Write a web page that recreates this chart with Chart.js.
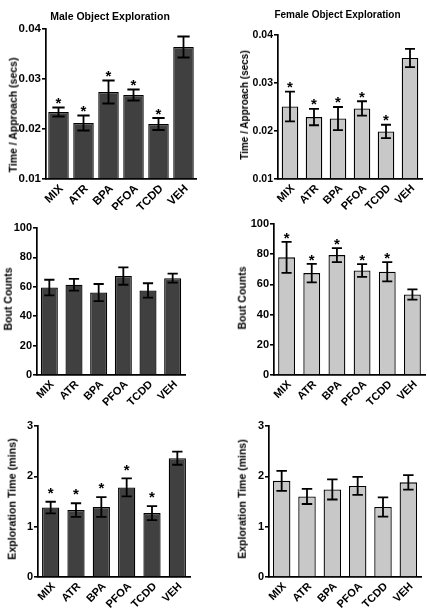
<!DOCTYPE html>
<html>
<head>
<meta charset="utf-8">
<script src="https://cdn.jsdelivr.net/npm/chart.js@4"></script>
<style>
  body { margin: 0; background: #fff; }
  #wrap { position: relative; width: 428px; height: 611px; overflow: hidden;
    font-family: "Liberation Sans", Arial, sans-serif; font-weight: bold; color: #000; }
  .panel { position: absolute; }
  .panel canvas { position: absolute; left: 0; top: 0; }
  .txt { position: absolute; white-space: nowrap; line-height: 1; transform: translate(-50%, -50%); }
  .ylab { transform: translate(-50%, -50%) rotate(-90deg); }
</style>
</head>
<body>
<div id="wrap"></div>
<script>
const groups = ["MIX", "ATR", "BPA", "PFOA", "TCDD", "VEH"];

const maleApproach = [0.0234, 0.0212, 0.0274, 0.0268, 0.0210, 0.0364];
const maleApproachErr = [0.0009, 0.0015, 0.0023, 0.0011, 0.0012, 0.0021];
const maleApproachSig = [1, 1, 1, 1, 1, 0];

const femaleApproach = [0.0251, 0.0229, 0.0226, 0.0247, 0.0199, 0.0352];
const femaleApproachErr = [0.0031, 0.0017, 0.0024, 0.0015, 0.0014, 0.0019];
const femaleApproachSig = [1, 1, 1, 1, 1, 0];

const maleBouts = [59.5, 61.4, 56.1, 67.3, 57.5, 65.9];
const maleBoutsErr = [5.3, 4.0, 5.8, 5.9, 4.9, 3.0];
const maleBoutsSig = [0, 0, 0, 0, 0, 0];

const femaleBouts = [77.9, 67.5, 79.4, 69.2, 68.4, 53.3];
const femaleBoutsErr = [10.3, 6.1, 4.6, 4.2, 6.4, 3.4];
const femaleBoutsSig = [1, 1, 1, 1, 1, 0];

const maleExplore = [1.38, 1.33, 1.39, 1.78, 1.27, 2.36];
const maleExploreErr = [0.115, 0.135, 0.195, 0.18, 0.14, 0.13];
const maleExploreSig = [1, 1, 1, 1, 1, 0];

const femaleExplore = [1.91, 1.60, 1.74, 1.81, 1.39, 1.88];
const femaleExploreErr = [0.2, 0.15, 0.2, 0.18, 0.19, 0.145];
const femaleExploreSig = [0, 0, 0, 0, 0, 0];

const approachTicks = [0.01, 0.02, 0.03, 0.04];
const boutTicks = [0, 20, 40, 60, 80, 100];
const exploreTicks = [0, 1, 2, 3];

const MALE_FILL = "#404040";
const FEMALE_FILL = "#c8c8c8";

// error bars + significance stars, drawn from the bar elements and y scale
const errorBars = {
  id: "errorBars",
  afterDatasetsDraw(chart, args, opts) {
    const ctx = chart.ctx;
    const y = chart.scales.y;
    const values = chart.data.datasets[0].data;
    ctx.save();
    ctx.strokeStyle = "#000";
    ctx.fillStyle = "#000";
    ctx.lineWidth = 1.8;
    ctx.font = "bold 15px 'Liberation Sans', Arial, sans-serif";
    ctx.textAlign = "center";
    ctx.textBaseline = "alphabetic";
    chart.getDatasetMeta(0).data.forEach((bar, i) => {
      const top = y.getPixelForValue(values[i] + opts.errors[i]);
      const bot = y.getPixelForValue(values[i] - opts.errors[i]);
      const half = bar.width * 0.3;
      ctx.beginPath();
      ctx.moveTo(bar.x, top);
      ctx.lineTo(bar.x, bot);
      ctx.moveTo(bar.x - half, top);
      ctx.lineTo(bar.x + half, top);
      ctx.moveTo(bar.x - half, bot);
      ctx.lineTo(bar.x + half, bot);
      ctx.stroke();
      if (opts.sig[i]) {
        ctx.fillText("*", bar.x, top - opts.starGap + 15 * 0.58);
      }
    });
    ctx.restore();
  },
};

const wrap = document.getElementById("wrap");

function addText(text, x, y, size, cls) {
  const d = document.createElement("div");
  d.className = "txt " + (cls || "");
  d.style.left = x + "px";
  d.style.top = y + "px";
  d.style.fontSize = size + "px";
  d.textContent = text;
  wrap.appendChild(d);
}

function makePanel(p) {
  const [bx, by, bw, bh] = p.box;
  const div = document.createElement("div");
  div.className = "panel";
  div.style.left = bx + "px";
  div.style.top = by + "px";
  div.style.width = bw + "px";
  div.style.height = bh + "px";
  const canvas = document.createElement("canvas");
  canvas.width = bw;
  canvas.height = bh;
  div.appendChild(canvas);
  wrap.appendChild(div);

  const fam = "'Liberation Sans', Arial, sans-serif";

  new Chart(canvas, {
    type: "bar",
    data: {
      labels: groups,
      datasets: [
        {
          data: p.values,
          base: p.ticks[0],
          backgroundColor: p.fill,
          borderColor: "#000",
          borderWidth: 1.3,
          borderSkipped: "bottom",
          barPercentage: p.barPct,
          categoryPercentage: 1,
        },
      ],
    },
    options: {
      responsive: false,
      animation: false,
      events: [],
      layout: {
        padding: { left: 0, top: p.area.top - by, right: bx + bw - p.area.right, bottom: 0 },
      },
      plugins: {
        legend: { display: false },
        tooltip: { enabled: false },
        errorBars: { errors: p.errors, sig: p.sig, starGap: p.starGap },
      },
      scales: {
        x: {
          grid: { display: false, drawTicks: false },
          border: { display: true, color: "#000", width: 1.7 },
          ticks: {
            color: "#000",
            font: { family: fam, weight: "bold", size: p.xTickSize },
            minRotation: 45,
            maxRotation: 45,
            padding: 3,
            labelOffset: 3,
          },
          afterFit: (s) => { s.height = by + bh - p.area.bottom; },
        },
        y: {
          min: p.ticks[0],
          max: p.ticks[p.ticks.length - 1],
          grid: { drawOnChartArea: false, drawTicks: true, tickLength: 4, color: "#000", lineWidth: 1.6 },
          border: { display: true, color: "#000", width: 1.7 },
          ticks: { color: "#000", font: { family: fam, weight: "bold", size: p.yTickSize }, padding: 1 },
          afterBuildTicks: (s) => { s.ticks = p.ticks.map((v) => ({ value: v })); },
          afterFit: (s) => { s.width = p.area.left - bx; },
        },
      },
    },
    plugins: [errorBars],
  });

  if (p.title) addText(p.title, p.titlePos[0], p.titlePos[1], p.titleSize);
  addText(p.yTitle, p.yTitlePos[0], p.yTitlePos[1], p.yTitleSize, "ylab");
}

const panels = [
  {
    box: [0, 0, 214, 210], area: { left: 46, top: 29, right: 196, bottom: 179 },
    values: maleApproach, errors: maleApproachErr, sig: maleApproachSig, ticks: approachTicks,
    fill: MALE_FILL, barPct: 0.82, starGap: 8, xTickSize: 11.5, yTickSize: 11.5,
    title: "Male Object Exploration", titlePos: [110, 16], titleSize: 10.5,
    yTitle: "Time / Approach (secs)", yTitlePos: [12.5, 115], yTitleSize: 10.5,
  },
  {
    box: [214, 0, 214, 210], area: { left: 278, top: 35, right: 422, bottom: 179 },
    values: femaleApproach, errors: femaleApproachErr, sig: femaleApproachSig, ticks: approachTicks,
    fill: FEMALE_FILL, barPct: 0.69, starGap: 8.3, xTickSize: 11, yTickSize: 10.5,
    title: "Female Object Exploration", titlePos: [337.5, 15], titleSize: 10,
    yTitle: "Time / Approach (secs)", yTitlePos: [245, 105], yTitleSize: 10,
  },
  {
    box: [0, 210, 214, 200], area: { left: 37, top: 228, right: 185, bottom: 375 },
    values: maleBouts, errors: maleBoutsErr, sig: maleBoutsSig, ticks: boutTicks,
    fill: MALE_FILL, barPct: 0.69, starGap: 8, xTickSize: 11, yTickSize: 11,
    yTitle: "Bout Counts", yTitlePos: [7.5, 299], yTitleSize: 10.5,
  },
  {
    box: [214, 210, 214, 200], area: { left: 274, top: 224, right: 425, bottom: 375 },
    values: femaleBouts, errors: femaleBoutsErr, sig: femaleBoutsSig, ticks: boutTicks,
    fill: FEMALE_FILL, barPct: 0.67, starGap: 7.5, xTickSize: 11, yTickSize: 11,
    yTitle: "Bout Counts", yTitlePos: [241.5, 297.5], yTitleSize: 10.5,
  },
  {
    box: [0, 410, 214, 201], area: { left: 38, top: 426, right: 190, bottom: 577 },
    values: maleExplore, errors: maleExploreErr, sig: maleExploreSig, ticks: exploreTicks,
    fill: MALE_FILL, barPct: 0.68, starGap: 12.5, xTickSize: 11, yTickSize: 11,
    yTitle: "Exploration Time (mins)", yTitlePos: [11.5, 499], yTitleSize: 10.7,
  },
  {
    box: [214, 410, 214, 201], area: { left: 269, top: 426, right: 421, bottom: 577 },
    values: femaleExplore, errors: femaleExploreErr, sig: femaleExploreSig, ticks: exploreTicks,
    fill: FEMALE_FILL, barPct: 0.69, starGap: 10, xTickSize: 11, yTickSize: 11,
    yTitle: "Exploration Time (mins)", yTitlePos: [242, 499], yTitleSize: 10.5,
  },
];

panels.forEach(makePanel);
</script>
</body>
</html>
